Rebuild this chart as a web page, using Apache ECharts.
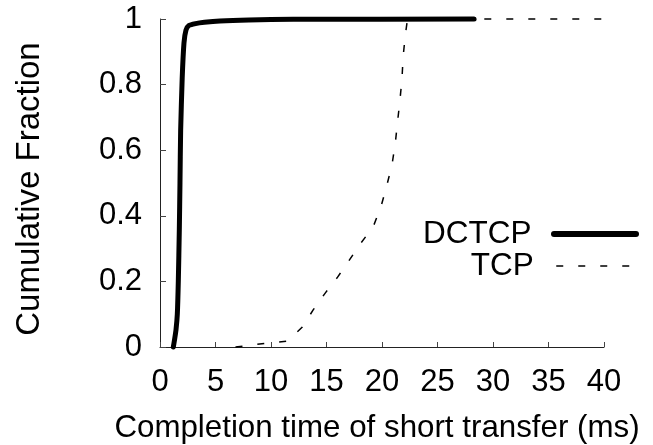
<!DOCTYPE html>
<html>
<head>
<meta charset="utf-8">
<script src="https://cdn.jsdelivr.net/npm/echarts@6/dist/echarts.min.js"></script>
<style>html,body{margin:0;padding:0;background:#fff;}#c{width:653px;height:445px;}</style>
</head>
<body>
<div id="c"></div>
<script>
var seriesNames = ['DCTCP', 'TCP'];
var xTitle = 'Completion time of short transfer (ms)';
var yTitle = 'Cumulative Fraction';
var dctcp = [
  [1.2, 0], [1.3, 0.02], [1.44, 0.052], [1.56, 0.10], [1.65, 0.20], [1.74, 0.357],
  [1.8, 0.5], [1.86, 0.66], [2.0, 0.82], [2.16, 0.927], [2.34, 0.966], [2.6, 0.98],
  [3.2, 0.986], [4.0, 0.99], [5.4, 0.994], [8, 0.997], [12, 0.999], [28.3, 1.0]
];
var tcp = [
  [6.8, 0], [7.7, 0.003], [9.6, 0.012], [11.5, 0.018], [12.8, 0.06], [13.8, 0.113],
  [14.9, 0.165], [16.0, 0.213], [17.0, 0.262], [18.1, 0.317], [19.2, 0.366], [19.9, 0.427],
  [20.4, 0.488], [20.9, 0.555], [21.2, 0.622], [21.4, 0.686], [21.6, 0.747], [21.8, 0.817],
  [21.9, 0.884], [22.1, 0.951], [22.3, 1.0], [40, 1.0]
];

var font = 'Liberation Sans, Arial, Helvetica, sans-serif';
var legendText = {fontFamily: font, fontSize: 31.5, color: '#000'};
function legendFmt(n) { return n + '\u00a0\u00a0'; }
var chart = echarts.init(document.getElementById('c'), null, {renderer: 'canvas'});
chart.setOption({
  animation: false,
  backgroundColor: '#fff',
  color: ['#000', '#000'],
  grid: {left: 160, right: 49, top: 19, bottom: 98, containLabel: false, outerBoundsMode: 'none'},
  legend: [
    {
      right: 14, top: 218, orient: 'horizontal', align: 'right', padding: 0,
      itemWidth: 82, itemHeight: 10, formatter: legendFmt,
      textStyle: legendText, selectedMode: false,
      data: [{name: seriesNames[0], itemStyle: {opacity: 0}, lineStyle: {width: 6, color: '#000'}}]
    },
    {
      right: 14, top: 250, orient: 'horizontal', align: 'right', padding: 0,
      itemWidth: 82, itemHeight: 10, formatter: legendFmt,
      textStyle: legendText, selectedMode: false,
      data: [{name: seriesNames[1], itemStyle: {opacity: 0}, lineStyle: {width: 1.5, color: '#000', type: [7, 15]}}]
    }
  ],
  xAxis: {
    type: 'value', min: 0, max: 40, interval: 5,
    name: xTitle, nameLocation: 'middle', nameGap: 66,
    nameTextStyle: {fontFamily: font, fontSize: 31.3, color: '#000', padding: [0, 10, 0, 0]},
    axisLine: {lineStyle: {color: '#222', width: 1}},
    axisTick: {inside: true, length: 5, lineStyle: {color: '#444'}},
    axisLabel: {fontFamily: font, fontSize: 31, color: '#000', margin: 20},
    splitLine: {show: false}
  },
  yAxis: {
    type: 'value', min: 0, max: 1, interval: 0.2,
    name: yTitle, nameLocation: 'middle', nameGap: 114, nameRotate: 90,
    nameTextStyle: {fontFamily: font, fontSize: 33, color: '#000', padding: [0, 12, 0, 0]},
    axisLine: {show: true, lineStyle: {color: '#222', width: 1}},
    axisTick: {show: true, inside: true, length: 6, lineStyle: {color: '#444'}},
    axisLabel: {fontFamily: font, fontSize: 31, color: '#000', margin: 18},
    splitLine: {show: false}
  },
  series: [
    {name: seriesNames[1], type: 'line', data: tcp, symbol: 'none', clip: false,
     itemStyle: {color: '#000'},
     lineStyle: {color: '#000', width: 1.5, type: [7, 15]}, z: 2},
    {name: seriesNames[0], type: 'line', data: dctcp, symbol: 'none', clip: false, smooth: 0.2,
     itemStyle: {color: '#000'},
     lineStyle: {color: '#000', width: 5, cap: 'round', join: 'round'}, z: 3}
  ]
});
</script>
</body>
</html>
